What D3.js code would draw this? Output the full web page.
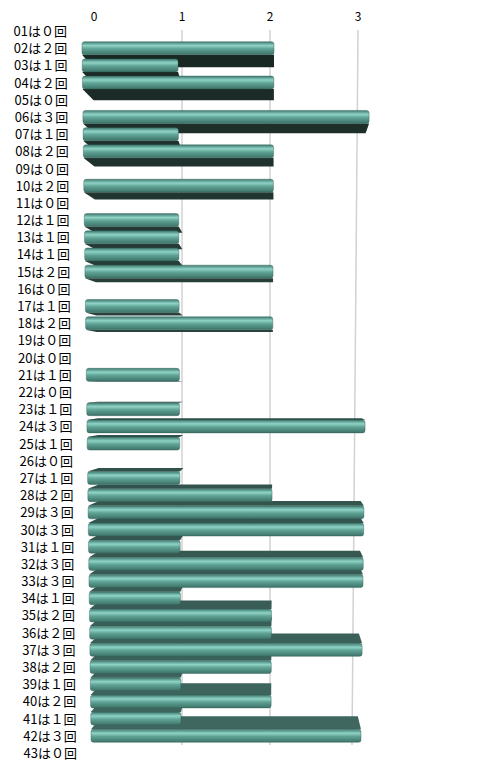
<!DOCTYPE html>
<html><head><meta charset="utf-8">
<script src="https://cdn.jsdelivr.net/npm/d3@7"></script>
<style>body{margin:0;background:#fff}</style></head>
<body><svg id="chart" width="499" height="771"></svg>
<script>
// Data
const ids = ["01","02","03","04","05","06","07","08","09","10","11","12","13","14","15","16","17","18","19","20","21","22","23","24","25","26","27","28","29","30","31","32","33","34","35","36","37","38","39","40","41","42","43"];
const counts = [0,2,1,2,0,3,1,2,0,2,0,1,1,1,2,0,1,2,0,0,1,0,1,3,1,0,1,2,3,3,1,3,3,1,2,2,3,2,1,2,1,3,0];
const tickValues = [0,1,2,3];
const fw = "０１２３";

const svg = d3.select("#chart");
const font = "'Noto Sans CJK JP', sans-serif";

// row positions
const yRow = d3.scaleLinear().domain([0, ids.length - 1]).range([31, 753]);
// perspective: left edge and unit width vary with y
const leftAt = d3.scaleLinear().domain([49, 735]).range([82, 91]);
const unitAt = d3.scaleLinear().domain([49, 735]).range([96, 90]);
const cy = 385, cx = 275, t = 0.037, half = 6.5;
const faceCol = d3.scaleLinear().domain([49, cy, 735]).range(["#1a2824", "#2c4a44", "#3f6760"]);

// gradient for front face
const defs = svg.append("defs");
const g = defs.append("linearGradient").attr("id", "front").attr("x1", 0).attr("y1", 0).attr("x2", 0).attr("y2", 1);
[[0,"#3e7a70"],[0.3,"#8fd3c6"],[0.55,"#5fa395"],[1,"#3d7268"]].forEach(([o,c]) =>
  g.append("stop").attr("offset", o).attr("stop-color", c));

// grid lines
const xTop = d3.scaleLinear().domain([0,3]).range([94, 358]);
tickValues.slice(1).forEach(v => {
  svg.append("line").attr("x1", xTop(v)).attr("x2", xTop(v) - (v === 3 ? 6 : 0))
    .attr("y1", 30).attr("y2", 745).attr("stroke", "#d2d2d2").attr("stroke-width", 1.5);
});
svg.selectAll(".tick").data(tickValues).enter().append("text")
  .attr("x", d => xTop(d)).attr("y", 21).attr("text-anchor", "middle")
  .attr("font-family", font).attr("font-size", 12).text(d => d);

// bars: painter's order, far from centre first
const rows = ids.map((id, i) => ({ id, v: counts[i], y: yRow(i) }));
const drawn = rows.filter(d => d.v > 0).sort((a, b) => Math.abs(b.y - cy) - Math.abs(a.y - cy));

drawn.forEach(d => {
  const x = d3.scaleLinear().domain([0, 3]).range([leftAt(d.y), leftAt(d.y) + 3 * unitAt(d.y)]);
  const x0 = x(0), x1 = x(d.v);
  // depth face: bottom face for upper rows, top face for lower rows
  const edgeY = d.y > cy ? d.y - half : d.y + half;
  const by = edgeY + (cy - d.y) * t;
  const pts = [[x0, edgeY], [x1, edgeY], [x1 + (cx - x1) * t, by], [x0 + (cx - x0) * t + 4, by]];
  svg.append("path").attr("d", d3.line()(pts) + "Z").attr("fill", faceCol(d.y));
  svg.append("rect").attr("x", x0).attr("y", d.y - half).attr("width", x1 - x0).attr("height", 2 * half)
    .attr("rx", 2.5).attr("fill", "url(#front)").attr("stroke", "#2f5a52").attr("stroke-width", 0.4);
});

// labels
svg.selectAll(".lab").data(rows).enter().append("text")
  .attr("x", d => 67 + (d.y - 31) / 722 * 10).attr("y", d => d.y + 5)
  .attr("text-anchor", "end").attr("font-family", font).attr("font-size", 13)
  .text(d => `${d.id}は${fw[d.v]}回`);
</script></body></html>
